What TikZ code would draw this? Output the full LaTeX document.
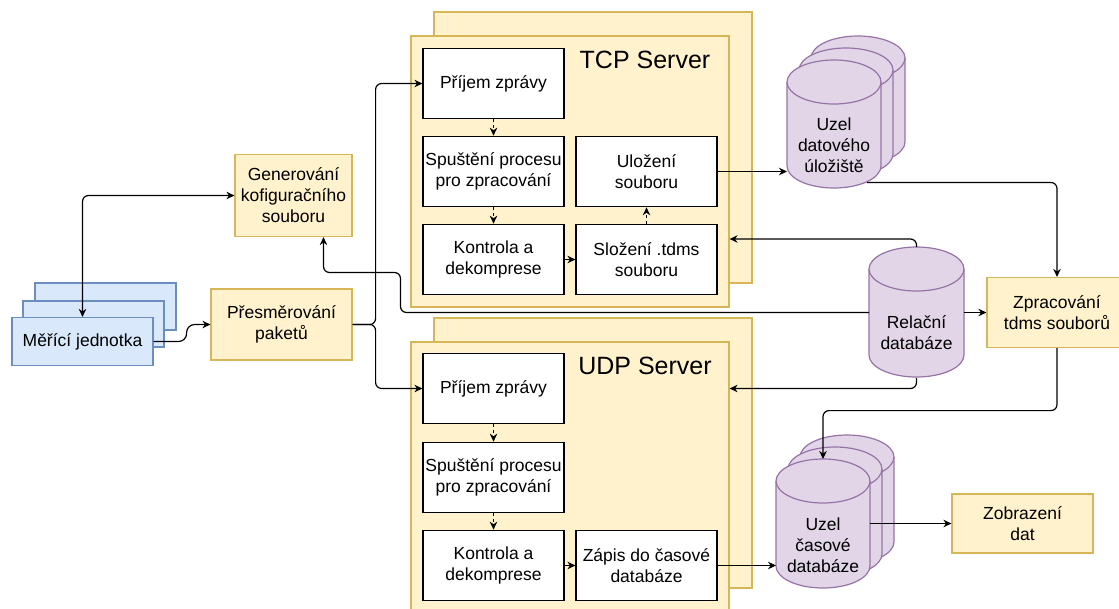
\documentclass[tikz,border=0pt]{standalone}
\usepackage{fontspec}
\setmainfont{Liberation Sans}
\usetikzlibrary{arrows.meta}
\definecolor{yelF}{HTML}{FFF2CC}
\definecolor{yelD}{HTML}{D6B656}
\definecolor{bluF}{HTML}{DAE8FC}
\definecolor{bluD}{HTML}{6C8EBF}
\definecolor{purF}{HTML}{E1D5E7}
\definecolor{purD}{HTML}{9673A6}
\newcommand{\mycyl}[4]{%
  \pgfmathsetmacro{\cylrx}{(#2-#1)/2}%
  \filldraw[cylst] (#1,#3+22) -- (#1,#4-22) arc[start angle=180,end angle=0,x radius=\cylrx,y radius=22] -- (#2,#3+22) arc[start angle=0,end angle=-180,x radius=\cylrx,y radius=22] -- cycle;
  \draw[cylst] (#1,#3+22) arc[start angle=180,end angle=0,x radius=\cylrx,y radius=22];
}
\tikzset{
  base/.style={line width=1.2pt, inner sep=0pt, align=center, font=\fontsize{17.5}{21}\selectfont},
  ybox/.style={base, draw=yelD, fill=yelF},
  bbox/.style={base, draw=bluD, fill=bluF},
  wbox/.style={base, draw=black, fill=white, minimum width=141, minimum height=70.5},
  cylst/.style={line width=1.2pt, draw=purD, fill=purF},
  cyltext/.style={base, inner sep=0pt},
  bound/.style={inner sep=0pt, outer sep=0pt},
  arr/.style={-{Stealth[length=8pt,width=7.5pt]}, line width=1.2pt, rounded corners=6pt},
  darr/.style={arr, dash pattern=on 3pt off 3pt},
  dbl/.style={{Stealth[length=8pt,width=7.5pt]}-{Stealth[length=8pt,width=7.5pt]}, line width=1.2pt, rounded corners=6pt},
  title/.style={inner sep=0pt, font=\fontsize{25}{30}\selectfont}
}
\begin{document}
\begin{tikzpicture}[x=1pt,y=-1pt]
\useasboundingbox (0,0) rectangle (1119,608);
\clip (0,0) rectangle (1119,608);

% measuring units
\node[bbox, minimum width=141, minimum height=47] (mjb) at (105.5,306.5) {};
\node[bbox, minimum width=141, minimum height=46] (mjm) at (93.5,324) {};
\node[bbox, minimum width=141, minimum height=48] (mj) at (82.5,341.5) {Měřící jednotka};

% left yellow boxes
\node[ybox, minimum width=117, minimum height=82] (gen) at (293.5,195.5) {Generování\\kofiguračního\\souboru};
\node[ybox, minimum width=141, minimum height=71] (pres) at (281.5,324.5) {Přesměrování\\paketů};

% TCP server
\node[ybox, minimum width=318, minimum height=271] (tcpB) at (593,147.5) {};
\node[ybox, minimum width=318, minimum height=271] (tcpF) at (570,171.5) {};
\node[title] (tcpT) at (645,60) {TCP Server};
\node[wbox] (tcp1) at (493.5,83.5) {Příjem zprávy};
\node[wbox] (tcp2) at (493.5,171.5) {Spuštění procesu\\pro zpracování};
\node[wbox] (tcp3) at (493.5,259.5) {Kontrola a\\dekomprese};
\node[wbox] (tcp4) at (646.5,171.5) {Uložení\\souboru};
\node[wbox] (tcp5) at (646.5,259.5) {Složení .tdms\\souboru};

% UDP server
\node[ybox, minimum width=318, minimum height=270] (udpB) at (593,453) {};
\node[ybox, minimum width=318, minimum height=271] (udpF) at (570,477.5) {};
\node[title] (udpT) at (645,366) {UDP Server};
\node[wbox] (udp1) at (493.5,388.5) {Příjem zprávy};
\node[wbox] (udp2) at (493.5,477.5) {Spuštění procesu\\pro zpracování};
\node[wbox] (udp3) at (493.5,565.5) {Kontrola a\\dekomprese};
\node[wbox] (udp5) at (646.5,565.5) {Zápis do časové\\databáze};

% right boxes
\node[ybox, minimum width=140, minimum height=70] (zprac) at (1057,312.5) {Zpracování\\tdms souborů};
\node[ybox, minimum width=141, minimum height=59] (zobr) at (1022.5,523.5) {Zobrazení\\dat};

% data storage node (stacked cylinders)
\mycyl{811}{905}{36}{164}
\mycyl{799}{893}{48}{176}
\mycyl{787}{881}{60}{188}
\node[bound, minimum width=94, minimum height=128] (uzel1) at (834,124) {};
\node[cyltext] (uzel1t) at (834,145) {Uzel\\datového\\úložiště};

% relational database
\mycyl{869}{964}{247}{377}
\node[bound, minimum width=95, minimum height=131] (rel) at (916.5,312.5) {};
\node[cyltext] (relt) at (916.5,333) {Relační\\databáze};

% time-series database node
\mycyl{800}{894}{435}{564}
\mycyl{788}{882}{447}{576}
\mycyl{776}{870}{459}{588}
\node[bound, minimum width=94, minimum height=129] (uzel2) at (823,523.5) {};
\node[cyltext] (uzel2t) at (823,545) {Uzel\\časové\\databáze};

% connectors
\draw[dbl] (gen.west) -| (mj.north);
\draw[arr, rounded corners=8pt] (mj.east) -- ++(33,0) |- (pres.west);
\draw[arr] (pres.east) -- ++(23,0) |- (tcp1.west);
\draw[arr] (pres.east) -- ++(23,0) |- (udp1.west);

\draw[darr] (tcp1.south) -- (tcp2.north);
\draw[darr] (tcp2.south) -- (tcp3.north);
\draw[arr] (tcp3.east) -- (tcp5.west);
\draw[darr] (tcp5.north) -- (tcp4.south);
\draw[arr] (tcp4.east) -- (tcp4.east -| uzel1.west);

\draw[darr] (udp1.south) -- (udp2.north);
\draw[darr] (udp2.south) -- (udp3.north);
\draw[arr] (udp3.east) -- (udp5.west);
\draw[arr] (udp5.east) -- (udp5.east -| uzel2.west);

\coordinate (u1o) at (867,182.5);
\draw[arr] (u1o) -| (zprac.north);
\draw[arr] (zprac.south) -- ++(0,62.5) -| (uzel2.north);
\draw[arr] (zobr.west -| uzel2.east) -- (zobr.west);

\draw[arr] (rel.east) -- (zprac.west);
\draw[arr] (rel.north) |- ([yshift=-67.5pt]tcpF.east);
\draw[arr] (rel.south) |- (udpF.east |- udp1.center);
\draw[arr] (rel.west) -- (400.5,312.5) -- (400.5,272.5) -- (323.5,272.5) -- ([xshift=30pt]gen.south);
\end{tikzpicture}
\end{document}
